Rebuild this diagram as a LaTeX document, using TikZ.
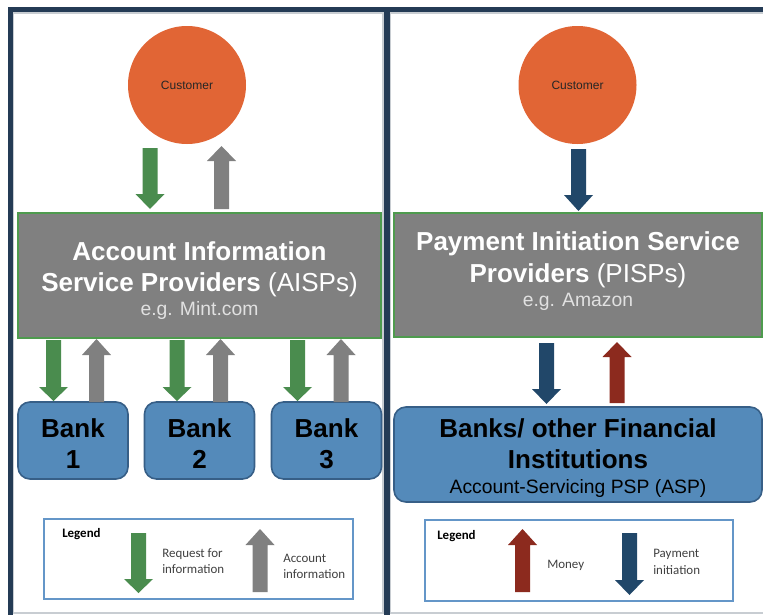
\documentclass[tikz,border=0pt]{standalone}
\usepackage{fontspec}
\setmainfont{Liberation Sans}
\newfontfamily\calfont{Carlito}
\definecolor{navy}{RGB}{36,59,85}
\definecolor{orangec}{RGB}{225,101,53}
\definecolor{greenc}{RGB}{74,140,78}
\definecolor{grayc}{RGB}{128,128,128}
\definecolor{darkblue}{RGB}{33,71,105}
\definecolor{redc}{RGB}{140,42,30}
\definecolor{bankfill}{RGB}{84,138,186}
\definecolor{bankedge}{RGB}{55,95,135}
\definecolor{boxedge}{RGB}{78,155,78}
\definecolor{panelgray}{RGB}{200,205,210}
\definecolor{legedge}{RGB}{100,150,200}
\definecolor{subtext}{RGB}{225,225,225}
\definecolor{legtext}{RGB}{64,64,64}
% block arrow: colour, x, y of tail, y of tip, y of head base
\newcommand\blockarrow[5]{%
  \fill[#1] (#2-7.5,#3) -- (#2+7.5,#3) -- (#2+7.5,#5) -- (#2+14.5,#5) -- (#2,#4)
    -- (#2-14.5,#5) -- (#2-7.5,#5) -- cycle;}
\begin{document}
\begin{tikzpicture}[x=0.75pt,y=-0.75pt,
  bigtext/.style={font=\fontsize{19.5}{22}\selectfont\bfseries, anchor=base, inner sep=0},
  subline/.style={font=\fontsize{14.5}{16}\selectfont, anchor=base, inner sep=0},
  custtext/.style={font=\fontsize{9}{10}\selectfont, text=black!85, anchor=base, inner sep=0},
  custnode/.style={circle, fill=orangec, minimum size=88.5pt, inner sep=0},
  provbox/.style={draw=boxedge, line width=1.5pt, fill=grayc, inner sep=0},
  bankbox/.style={draw=bankedge, line width=1.2pt, fill=bankfill, rounded corners=9pt, inner sep=0},
  legbox/.style={draw=legedge, line width=0.9pt, fill=white, inner sep=0},
  legtxt/.style={font=\calfont\fontsize{9.7}{11}\selectfont, text=legtext, anchor=base west, inner sep=0},
]
\useasboundingbox (0,0) rectangle (763,614);
\clip (0,0) rectangle (763,614);
\fill[white] (0,0) rectangle (763,614);

% panels
\draw[panelgray, line width=0.9pt] (13.5,13) rectangle (383,613);
\draw[panelgray, line width=0.9pt] (390,13) rectangle (780,613);
\draw[navy, line width=3.75pt] (10.5,630) -- (10.5,9.5) -- (780,9.5);
\draw[navy, line width=4.5pt] (386.5,9.5) -- (386.5,630);

% ---------------- left panel ----------------
\node[custnode] (cl) at (187,85) {};
\node[custtext] (clt) at (187,89) {Customer};

\node[provbox, minimum width=272.25pt, minimum height=93.75pt] (aisp) at (199.5,275.5) {};
\node[bigtext, text=white] (a1) at (199.5,260) {Account Information};
\node[bigtext, text=white] (a2) at (199.5,291) {Service Providers \mdseries(AISPs)};
\node[subline, text=subtext] (a3) at (199.5,315) {e.g. Mint.com};

\blockarrow{greenc}{150}{148}{209}{194}
\blockarrow{grayc}{221.5}{209}{146}{161}

\node[bankbox, minimum width=82.5pt, minimum height=57.75pt] (b1) at (73,440.5) {};
\node[bankbox, minimum width=82.5pt, minimum height=57.75pt] (b2) at (199.5,440.5) {};
\node[bankbox, minimum width=82.5pt, minimum height=57.75pt] (b3) at (326.5,440.5) {};
\node[bigtext] (b1a) at (73,437) {Bank};
\node[bigtext] (b1b) at (73,468) {1};
\node[bigtext] (b2a) at (199.5,437) {Bank};
\node[bigtext] (b2b) at (199.5,468) {2};
\node[bigtext] (b3a) at (326.5,437) {Bank};
\node[bigtext] (b3b) at (326.5,468) {3};

\blockarrow{greenc}{53.5}{340}{401}{387}
\blockarrow{grayc}{96.5}{402}{339}{355}
\blockarrow{greenc}{177}{340}{401}{387}
\blockarrow{grayc}{220.5}{402}{339}{355}
\blockarrow{greenc}{297.5}{340}{401}{387}
\blockarrow{grayc}{341}{402}{339}{355}

\node[legbox, minimum width=231.75pt, minimum height=60pt] (legl) at (198.5,559) {};
\node[legtxt, font=\calfont\fontsize{9.7}{11}\selectfont\bfseries, text=black] (ll0) at (62,537) {Legend};
\blockarrow{greenc}{138.5}{533}{593}{579}
\node[legtxt] (ll1) at (162,557) {Request for};
\node[legtxt] (ll2) at (162,573) {information};
\blockarrow{grayc}{260}{592}{529}{545}
\node[legtxt] (ll3) at (283,562) {Account};
\node[legtxt] (ll4) at (283,578) {information};

% ---------------- right panel ----------------
\node[custnode] (cr) at (577.5,85) {};
\node[custtext] (crt) at (577.5,89) {Customer};

\blockarrow{darkblue}{578.5}{149}{211}{195}

\node[provbox, minimum width=276pt, minimum height=93pt] (pisp) at (578,275) {};
\node[bigtext, text=white] (p1) at (578,250) {Payment Initiation Service};
\node[bigtext, text=white] (p2) at (578,282) {Providers \mdseries(PISPs)};
\node[subline, text=subtext] (p3) at (578,306) {e.g. Amazon};

\blockarrow{darkblue}{546.5}{343}{404}{389}
\blockarrow{redc}{617}{403}{342}{357}

\node[bankbox, minimum width=276pt, minimum height=71.25pt] (banks) at (578,454.5) {};
\node[bigtext] (f1) at (578,437) {Banks/ other Financial};
\node[bigtext] (f2) at (578,468) {Institutions};
\node[subline] (f3) at (578,493) {Account-Servicing PSP (ASP)};

\node[legbox, minimum width=231pt, minimum height=60.75pt] (legr) at (579,560.5) {};
\node[legtxt, font=\calfont\fontsize{9.7}{11}\selectfont\bfseries, text=black] (lr0) at (437,539) {Legend};
\blockarrow{redc}{522.5}{592}{529}{545}
\node[legtxt] (lr1) at (547,568) {Money};
\blockarrow{darkblue}{629.5}{533}{595}{580}
\node[legtxt] (lr2) at (653,557) {Payment};
\node[legtxt] (lr3) at (653,574) {initiation};
\end{tikzpicture}
\end{document}
